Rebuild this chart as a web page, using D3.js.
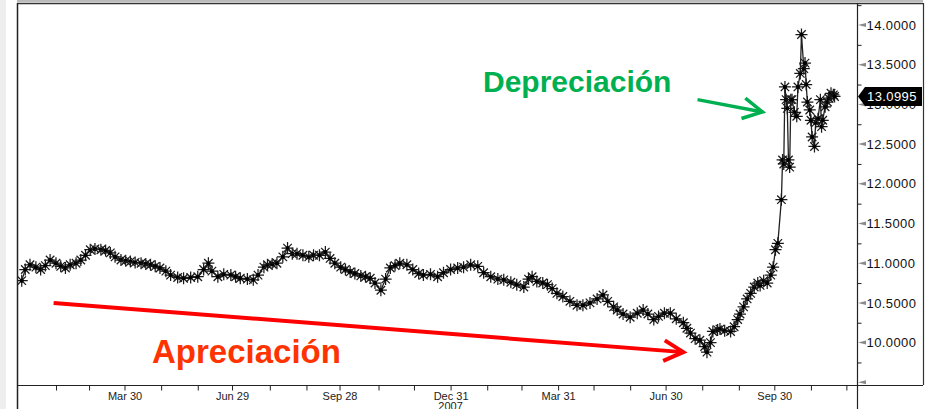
<!DOCTYPE html>
<html>

<head>
  <meta charset="utf-8">
  <title></title>
  <style>
    body { margin: 0; background: #fff; }
    text { font-family: "Liberation Sans", Arial, sans-serif; }
  </style>
</head>

<body>

  <script src="https://d3js.org/d3.v7.min.js" charset="utf-8"></script>
  <script type="text/javascript">
    // USD/MXN readings
    var dates = [
      "2007-01-02", "2007-01-05", "2007-01-09", "2007-01-14", "2007-01-18", "2007-01-22", "2007-01-26", "2007-01-31",
      "2007-02-04", "2007-02-08", "2007-02-12", "2007-02-17", "2007-02-21", "2007-02-25", "2007-03-01", "2007-03-05",
      "2007-03-10", "2007-03-14", "2007-03-18", "2007-03-22", "2007-03-27", "2007-03-31", "2007-04-04", "2007-04-08",
      "2007-04-13", "2007-04-17", "2007-04-21", "2007-04-25",
      "2007-04-29", "2007-05-04", "2007-05-08", "2007-05-14", "2007-05-19", "2007-05-25", "2007-05-31", "2007-06-05",
      "2007-06-09", "2007-06-12", "2007-06-17", "2007-06-22", "2007-06-28", "2007-07-02", "2007-07-06", "2007-07-12",
      "2007-07-17", "2007-07-21", "2007-07-26", "2007-07-29", "2007-08-02", "2007-08-06", "2007-08-11", "2007-08-15",
      "2007-08-19", "2007-08-23", "2007-08-28", "2007-09-02", "2007-09-06", "2007-09-11", "2007-09-16", "2007-09-20",
      "2007-09-24", "2007-09-29", "2007-10-03", "2007-10-07", "2007-10-11", "2007-10-16", "2007-10-20", "2007-10-24",
      "2007-10-28", "2007-11-02", "2007-11-06", "2007-11-10", "2007-11-14", "2007-11-18", "2007-11-24", "2007-11-29",
      "2007-12-04", "2007-12-08", "2007-12-14", "2007-12-20", "2007-12-25", "2007-12-31",
      "2008-01-06", "2008-01-11", "2008-01-17", "2008-01-23", "2008-01-28", "2008-02-03", "2008-02-09", "2008-02-14",
      "2008-02-20", "2008-02-25", "2008-03-02", "2008-03-06", "2008-03-09", "2008-03-13", "2008-03-18", "2008-03-22",
      "2008-03-26", "2008-03-30", "2008-04-04", "2008-04-10", "2008-04-16", "2008-04-21", "2008-04-27", "2008-05-03",
      "2008-05-08", "2008-05-12", "2008-05-17", "2008-05-20", "2008-05-25", "2008-05-31", "2008-06-06", "2008-06-11",
      "2008-06-15", "2008-06-20", "2008-06-24", "2008-06-29", "2008-07-04", "2008-07-09", "2008-07-15", "2008-07-18",
      "2008-07-21", "2008-07-25", "2008-07-29", "2008-08-02", "2008-08-04", "2008-08-07", "2008-08-09", "2008-08-13",
      "2008-08-15", "2008-08-19", "2008-08-24", "2008-08-27", "2008-08-30", "2008-09-01", "2008-09-04", "2008-09-07",
      "2008-09-10", "2008-09-13", "2008-09-16", "2008-09-18", "2008-09-21", "2008-09-24", "2008-09-27", "2008-09-29",
      "2008-10-01", "2008-10-03", "2008-10-06", "2008-10-07", "2008-10-08", "2008-10-09", "2008-10-10", "2008-10-11",
      "2008-10-12", "2008-10-13", "2008-10-14", "2008-10-15", "2008-10-17", "2008-10-19", "2008-10-20", "2008-10-22",
      "2008-10-23", "2008-10-25", "2008-10-26", "2008-10-27", "2008-10-28", "2008-10-30", "2008-10-31", "2008-11-01",
      "2008-11-03", "2008-11-04", "2008-11-06", "2008-11-08", "2008-11-09", "2008-11-10", "2008-11-12", "2008-11-14",
      "2008-11-15", "2008-11-17", "2008-11-19", "2008-11-20"
    ];
    var values = [
      10.78, 10.92, 10.98, 10.95, 10.92, 10.97, 11.04, 11.00,
      10.96, 10.94, 10.98, 11.00, 11.04, 11.10, 11.17, 11.18,
      11.17, 11.16, 11.13, 11.08, 11.04, 11.03, 11.02, 11.01,
      11.00, 10.99, 10.98, 10.96,
      10.94, 10.90, 10.85, 10.82, 10.81, 10.82, 10.83, 10.92,
      11.00, 10.90, 10.83, 10.86, 10.85, 10.83, 10.81, 10.80,
      10.79, 10.85, 10.95, 10.98, 10.99, 11.00, 11.08, 11.19,
      11.12, 11.12, 11.10, 11.08, 11.10, 11.10, 11.14, 11.06,
      11.00, 10.95, 10.92, 10.89, 10.87, 10.84, 10.83, 10.81,
      10.75, 10.66, 10.80, 10.94, 10.97, 11.00, 10.98, 10.92,
      10.87, 10.85, 10.86, 10.83, 10.88, 10.92,
      10.94, 10.95, 10.98, 10.96, 10.88, 10.83, 10.80, 10.79,
      10.76, 10.73, 10.70, 10.80, 10.83, 10.77, 10.75, 10.73,
      10.68, 10.62, 10.58, 10.52, 10.47, 10.47, 10.50, 10.55,
      10.60, 10.52, 10.45, 10.41, 10.36, 10.32, 10.37, 10.41,
      10.36, 10.29, 10.33, 10.37, 10.37, 10.30, 10.25, 10.18,
      10.12, 10.05, 10.03, 9.95, 9.88, 10.00, 10.14, 10.16,
      10.17, 10.15, 10.14, 10.20, 10.29, 10.36, 10.45, 10.55,
      10.62, 10.70, 10.75, 10.72, 10.78, 10.75, 10.85, 10.95,
      11.17, 11.25, 11.80, 12.30, 12.25, 13.22, 13.06, 12.95,
      12.30, 12.21, 13.06, 13.06, 12.90, 12.85, 13.22, 13.39,
      13.88, 13.45, 13.52, 13.25, 13.03, 12.93, 12.80, 12.59,
      12.47, 12.77, 12.82, 13.06, 12.72, 12.80, 12.97, 13.03,
      13.08, 13.14, 13.12, 13.10
    ];

    var tickDates = ["2007-03-30", "2007-06-29", "2007-09-28", "2007-12-31", "2008-03-31", "2008-06-30", "2008-09-30"];
    var tickLabels = ["Mar 30", "Jun 29", "Sep 28", "Dec 31", "Mar 31", "Jun 30", "Sep 30"];
    var yearLabel = { date: "2007-12-31", text: "2007" };
    var yTicks = [10, 10.5, 11, 11.5, 12, 12.5, 13, 13.5, 14];
    var yMinor = [9.75, 10.25, 10.75, 11.25, 11.75, 12.25, 12.75, 13.25, 13.75, 14.25];
    var lastValue = 13.0995;

    // annotation anchors in data space
    var redArrow = { from: ["2007-01-29", 10.50], to: ["2008-07-15", 9.88], label: "Apreciación" };
    var greenArrow = { from: ["2008-07-27", 13.06], to: ["2008-09-20", 12.905], label: "Depreciación" };

    var width = 936, height = 409;
    var plotL = 17, plotR = 857, plotT = 3, plotB = 385, panelR = 923;
    var parse = d3.timeParse("%Y-%m-%d");

    var x = d3.scaleTime()
      .domain([parse("2006-12-29"), parse("2008-12-09")])
      .range([plotL, plotR]);
    var y = d3.scaleLinear()
      .domain([9.466, 14.277])
      .range([plotB, plotT]);

    var data = dates.map(function(d, i) {
      return { date: parse(d), value: values[i] };
    });

    var svg = d3.select('body')
      .append("svg")
      .attr("width", width)
      .attr("height", height);

    svg.append("rect").attr("width", width).attr("height", height).attr("fill", "#fff");
    svg.append("rect").attr("x", 0).attr("y", 0).attr("width", 6).attr("height", height).attr("fill", "#eeeeee");

    // frame
    svg.append("line").attr("x1", plotL).attr("x2", panelR).attr("y1", 1).attr("y2", 1)
      .attr("stroke", "#bbb").attr("stroke-width", 2);
    svg.append("line").attr("x1", plotL).attr("x2", panelR).attr("y1", plotT + 0.5).attr("y2", plotT + 0.5)
      .attr("stroke", "#333").attr("stroke-width", 1.5);
    svg.append("line").attr("x1", plotL + 0.5).attr("x2", plotL + 0.5).attr("y1", plotT).attr("y2", height)
      .attr("stroke", "#222").attr("stroke-width", 1.5);
    svg.append("line").attr("x1", plotR + 0.5).attr("x2", plotR + 0.5).attr("y1", plotT).attr("y2", height)
      .attr("stroke", "#222").attr("stroke-width", 1.2);
    svg.append("line").attr("x1", panelR + 0.5).attr("x2", panelR + 0.5).attr("y1", plotT).attr("y2", plotB)
      .attr("stroke", "#333").attr("stroke-width", 1.2);
    svg.append("line").attr("x1", plotL).attr("x2", panelR).attr("y1", plotB + 0.5).attr("y2", plotB + 0.5)
      .attr("stroke", "#222").attr("stroke-width", 1.2);

    // x axis: a tick at every month end, labels at quarter ends
    var monthEnds = d3.timeMonth.range(parse("2007-02-01"), parse("2008-12-02")).map(function(d) {
      return d3.timeDay.offset(d, -1);
    });
    var labelAt = {};
    tickDates.forEach(function(d, i) { labelAt[d] = tickLabels[i]; });
    var fmt = d3.timeFormat("%Y-%m-%d");
    var ticksAll = monthEnds.map(function(d) {
      var k = fmt(d);
      // quarter labels fall on the last trading day
      var hit = tickDates.filter(function(t) { return t.slice(0, 7) == k.slice(0, 7); })[0];
      return hit ? parse(hit) : d;
    });

    var xAxis = d3.axisBottom(x)
      .tickValues(ticksAll)
      .tickSize(5)
      .tickPadding(2)
      .tickFormat(function(d) { return labelAt[fmt(d)] || ""; });
    var gx = svg.append("g").attr("transform", "translate(0," + (plotB + 0.5) + ")").call(xAxis);
    gx.select(".domain").remove();
    gx.selectAll("line").attr("stroke", "#222");
    gx.selectAll("text").attr("font-size", 11).attr("fill", "#222")
      .attr("font-family", "Liberation Sans, Arial, sans-serif");
    svg.append("text")
      .attr("x", x(parse(yearLabel.date)))
      .attr("y", plotB + 25)
      .attr("text-anchor", "middle")
      .attr("font-size", 11)
      .attr("fill", "#222")
      .text(yearLabel.text);

    // y axis on the right
    var yAxis = d3.axisRight(y)
      .tickValues(yTicks)
      .tickSize(0)
      .tickPadding(9)
      .tickFormat(d3.format(".4f"));
    var gy = svg.append("g").attr("transform", "translate(" + (plotR + 0.5) + ",0)").call(yAxis);
    gy.select(".domain").remove();
    gy.selectAll("text").attr("font-size", 13).attr("fill", "#111")
      .attr("letter-spacing", "0.4px")
      .attr("font-family", "Liberation Sans, Arial, sans-serif");

    var yMinorAxis = d3.axisRight(y).tickValues(yMinor).tickSize(4).tickFormat("");
    var gym = svg.append("g").attr("transform", "translate(" + (plotR + 0.5) + ",0)").call(yMinorAxis);
    gym.select(".domain").remove();
    gym.selectAll("line").attr("stroke", "#222");

    // grey arrow marks at the major values
    svg.append("g").selectAll("path")
      .data([9.5].concat(yTicks))
      .enter().append("path")
      .attr("d", function(d) {
        var yy = y(d);
        return "M" + (plotR + 1) + "," + yy + "L" + (plotR + 9) + "," + (yy - 2) + "L" + (plotR + 9) + "," + (yy + 2) + "Z";
      })
      .attr("fill", "#8a8a8a");

    // series
    svg.append("clipPath").attr("id", "clip")
      .append("rect").attr("x", plotL + 1).attr("y", plotT + 1).attr("width", plotR - plotL - 1).attr("height", plotB - plotT - 1);
    var plot = svg.append("g").attr("clip-path", "url(#clip)");

    var line = d3.line()
      .x(function(d) { return x(d.date); })
      .y(function(d) { return y(d.value); });
    plot.append("path")
      .datum(data)
      .attr("d", line)
      .attr("fill", "none")
      .attr("stroke", "#222")
      .attr("stroke-width", 1.3);

    function star(r) {
      var p = d3.path();
      for (var a = 0; a < 4; a++) {
        var t = a * Math.PI / 4;
        p.moveTo(-r * Math.cos(t), -r * Math.sin(t));
        p.lineTo(r * Math.cos(t), r * Math.sin(t));
      }
      return p.toString();
    }
    var starPath = star(6);
    var marks = plot.selectAll("g.mk")
      .data(data)
      .enter().append("g")
      .attr("class", "mk")
      .attr("transform", function(d) { return "translate(" + x(d.date) + "," + y(d.value) + ")"; });
    marks.append("path")
      .attr("d", starPath)
      .attr("stroke", "#1a1a1a")
      .attr("stroke-width", 1.25)
      .attr("fill", "none");
    marks.append("circle")
      .attr("r", 2)
      .attr("fill", "#000");

    // last value tag
    var ly = y(lastValue);
    svg.append("path")
      .attr("d", "M" + (plotR + 1) + "," + ly + "L" + (plotR + 8) + "," + (ly - 9.5) + "L" + (panelR - 1) + "," + (ly - 9.5) +
        "L" + (panelR - 1) + "," + (ly + 9.5) + "L" + (plotR + 8) + "," + (ly + 9.5) + "Z")
      .attr("fill", "#000");
    svg.append("text")
      .attr("x", plotR + 10)
      .attr("y", ly + 4.5)
      .attr("font-size", 13)
      .attr("letter-spacing", "0.4px")
      .attr("fill", "#fff")
      .text(d3.format(".4f")(lastValue));

    // annotations
    function arrow(a, color, w, head) {
      var x1 = x(parse(a.from[0])), y1 = y(a.from[1]);
      var x2 = x(parse(a.to[0])), y2 = y(a.to[1]);
      var ang = Math.atan2(y2 - y1, x2 - x1) + Math.PI;
      var spread = 28 * Math.PI / 180;
      var g = svg.append("g").attr("stroke", color).attr("stroke-width", w).attr("fill", "none");
      g.append("line").attr("x1", x1).attr("y1", y1).attr("x2", x2).attr("y2", y2);
      g.append("path").attr("d",
        "M" + (x2 + head * Math.cos(ang - spread)) + "," + (y2 + head * Math.sin(ang - spread)) +
        "L" + x2 + "," + y2 +
        "L" + (x2 + head * Math.cos(ang + spread)) + "," + (y2 + head * Math.sin(ang + spread)));
    }
    arrow(redArrow, "#ff0000", 4, 22);
    arrow(greenArrow, "#00b050", 3.5, 22);

    svg.append("text")
      .attr("x", 152).attr("y", 363)
      .attr("font-size", 33).attr("font-weight", "bold")
      .attr("fill", "#ff3300")
      .text(redArrow.label);
    svg.append("text")
      .attr("x", 483).attr("y", 92)
      .attr("font-size", 30).attr("font-weight", "bold")
      .attr("fill", "#00b050")
      .text(greenArrow.label);
  </script>
</body>

</html>
